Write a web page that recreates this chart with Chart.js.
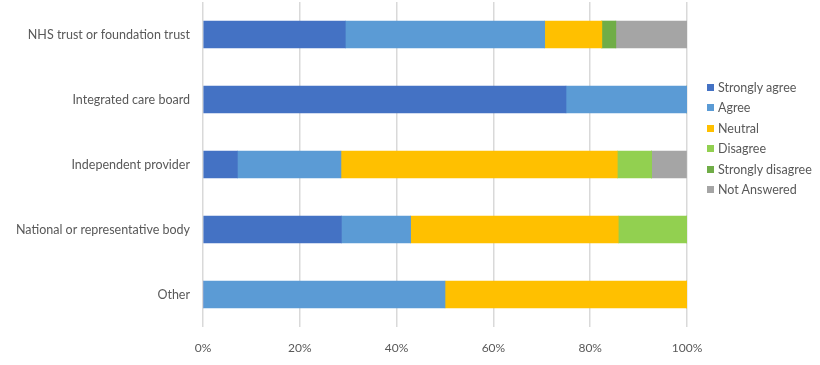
<!DOCTYPE html>
<html>
<head>
<meta charset="utf-8">
<script src="https://cdn.jsdelivr.net/npm/chart.js@4/dist/chart.umd.min.js"></script>
<style>
  html, body { margin: 0; padding: 0; background: #ffffff; }
  #wrap { position: relative; width: 820px; height: 365px; }
  #legend { position: absolute; left: 707px; top: 77px; font-family: Lato, "Open Sans", sans-serif; font-size: 12.5px; color: #595959; }
  #legend .item { display: flex; align-items: center; height: 20.5px; white-space: nowrap; }
  #legend .box { width: 7px; height: 7px; margin-right: 4px; flex: none; }
</style>
</head>
<body>
<div id="wrap">
  <canvas id="c" width="820" height="365"></canvas>
  <div id="legend"></div>
</div>
<script>
const categories = [
  "NHS trust or foundation trust",
  "Integrated care board",
  "Independent provider",
  "National or representative body",
  "Other"
];
const seriesNames = ["Strongly agree", "Agree", "Neutral", "Disagree", "Strongly disagree", "Not Answered"];
const stronglyAgree    = [29.4, 75.0,  7.1, 28.6,  0.0];
const agree            = [41.2, 25.0, 21.4, 14.3, 50.0];
const neutral          = [11.8,  0.0, 57.1, 42.9, 50.0];
const disagree         = [ 0.0,  0.0,  7.1, 14.2,  0.0];
const stronglyDisagree = [ 2.9,  0.0,  0.0,  0.0,  0.0];
const notAnswered      = [14.7,  0.0,  7.2,  0.0,  0.0];
const xTickValues = [0, 20, 40, 60, 80, 100];

const colors = ["#4472C4", "#5B9BD5", "#FFC000", "#92D050", "#70AD47", "#A5A5A5"];
const seriesData = [stronglyAgree, agree, neutral, disagree, stronglyDisagree, notAnswered];

const datasets = seriesNames.map((name, i) => ({
  label: name,
  data: seriesData[i],
  backgroundColor: colors[i],
  borderWidth: 0,
  barThickness: 27
}));

const FONT = "Lato, 'Open Sans', sans-serif";

const chart = new Chart(document.getElementById("c"), {
  type: "bar",
  data: { labels: categories, datasets },
  options: {
    indexAxis: "y",
    responsive: false,
    animation: false,
    devicePixelRatio: 1,
    layout: { padding: { left: 0, right: 133, top: 2, bottom: 0 } },
    plugins: { legend: { display: false }, tooltip: { enabled: false } },
    scales: {
      x: {
        stacked: true,
        min: 0, max: 100,
        afterBuildTicks: (s) => { s.ticks = xTickValues.map(v => ({ value: v })); },
        afterFit: (s) => { s.height = 38; s.paddingLeft = 0; s.paddingRight = 0; },
        grid: { color: "#d9d9d9", lineWidth: 1.5, drawTicks: false },
        border: { display: false },
        ticks: {
          padding: 14,
          color: "#595959",
          font: { family: FONT, size: 12 },
          callback: (v) => v + "%"
        }
      },
      y: {
        stacked: true,
        afterFit: (s) => { s.width = 203; s.paddingTop = 0; s.paddingBottom = 0; },
        grid: { display: false, drawTicks: false },
        border: { display: false },
        ticks: {
          padding: 13,
          color: "#595959",
          font: { family: FONT, size: 12.5 }
        }
      }
    }
  }
});

const leg = document.getElementById("legend");
seriesNames.forEach((name, i) => {
  const it = document.createElement("div");
  it.className = "item";
  const b = document.createElement("span");
  b.className = "box";
  b.style.background = colors[i];
  const t = document.createElement("span");
  t.textContent = name;
  it.appendChild(b); it.appendChild(t);
  leg.appendChild(it);
});
</script>
</body>
</html>
